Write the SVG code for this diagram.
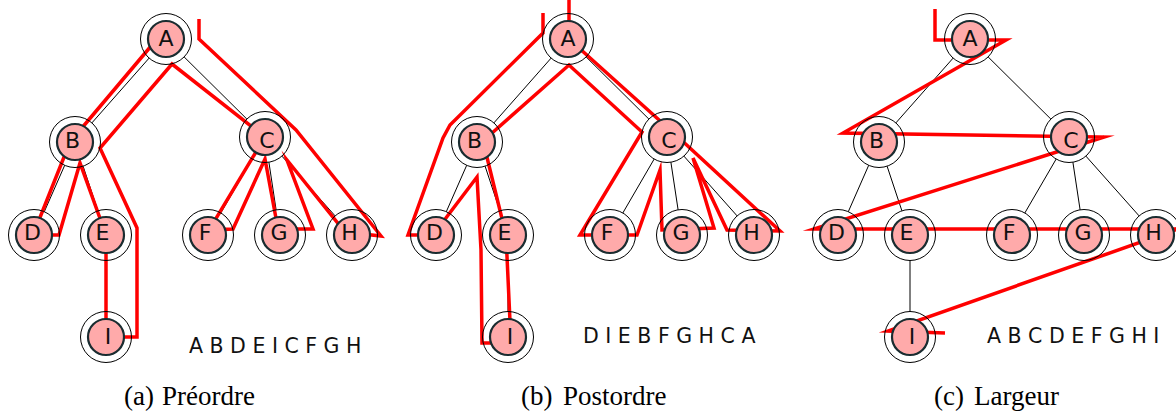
<svg xmlns="http://www.w3.org/2000/svg" width="1176" height="413" viewBox="0 0 1176 413">
<style>
.edge{stroke:#000;stroke-width:1;fill:none}
.walk{stroke:#ff0000;stroke-width:3.5;fill:none;stroke-linejoin:miter;stroke-miterlimit:10;stroke-linecap:butt}
.ring{fill:none;stroke:#000;stroke-width:1}
.core{fill:#ffaaaa;stroke:#1a2c30;stroke-width:2.2}
.lbl{font-family:"DejaVu Sans",sans-serif;font-size:22px;text-anchor:middle;fill:#111}
.seq{font-family:"DejaVu Sans",sans-serif;font-size:20.5px;fill:#111}
.cap{font-family:"Liberation Serif",serif;font-size:27px;fill:#000}
</style>
<rect width="1176" height="413" fill="#fff"/>
<g id="connectors">
  <g id="edges-a" class="edge">
    <line x1="149.1" y1="58.1" x2="91.9" y2="122.9"/>
    <line x1="184.1" y1="56.9" x2="246.9" y2="119.1"/>
    <line x1="64.7" y1="165.3" x2="44.3" y2="211.7"/>
    <line x1="83.1" y1="166.2" x2="97.9" y2="210.8"/>
    <line x1="252.2" y1="159" x2="220.8" y2="213"/>
    <line x1="268.9" y1="162.2" x2="276.1" y2="209.8"/>
    <line x1="281.9" y1="156.1" x2="335.1" y2="215.9"/>
    <line x1="106" y1="260.5" x2="106" y2="311.5"/>
  </g>
  <g id="edges-b" class="edge" transform="translate(402 0)">
    <line x1="149.1" y1="58.1" x2="91.9" y2="122.9"/>
    <line x1="184.1" y1="56.9" x2="246.9" y2="119.1"/>
    <line x1="64.7" y1="165.3" x2="44.3" y2="211.7"/>
    <line x1="83.1" y1="166.2" x2="97.9" y2="210.8"/>
    <line x1="252.2" y1="159" x2="220.8" y2="213"/>
    <line x1="268.9" y1="162.2" x2="276.1" y2="209.8"/>
    <line x1="281.9" y1="156.1" x2="335.1" y2="215.9"/>
    <line x1="106" y1="260.5" x2="106" y2="311.5"/>
  </g>
  <g id="edges-c" class="edge" transform="translate(804 0)">
    <line x1="149.1" y1="58.1" x2="91.9" y2="122.9"/>
    <line x1="184.1" y1="56.9" x2="246.9" y2="119.1"/>
    <line x1="64.7" y1="165.3" x2="44.3" y2="211.7"/>
    <line x1="83.1" y1="166.2" x2="97.9" y2="210.8"/>
    <line x1="252.2" y1="159" x2="220.8" y2="213"/>
    <line x1="268.9" y1="162.2" x2="276.1" y2="209.8"/>
    <line x1="281.9" y1="156.1" x2="335.1" y2="215.9"/>
    <line x1="106" y1="260.5" x2="106" y2="311.5"/>
  </g>
  <path id="walk-a" class="walk" d="M157,39 L70,142 L33,235 L59,235 L80,163 L106,235 L106,337 L137,337 L137,228 L100,148 L172,64 L265,137 L209,230 L233,229 L265,159 L278,229 L313,229 L287,160 L345,232 L381,236 L296,130 L199,39 L199,19"/>
  <path id="walk-b" class="walk" d="M543,13 L543,33 L450,125 L443,138 L408,235 L433,235 L477,177 L481,250 L482,343 L511,343 L506,235 L483,141 L569,65 L642,132 L580,235 L637,235 L660,170 L662,230 L714,228 L693,158 L727,230 L780,231 L678,137 L569,39 L569,0"/>
  <path id="walk-c" class="walk" d="M935,9 L935,40 L1006,40 L843,133 L1104,137 L814,229 L1178,229 L888,331 L945,333"/>
</g>
<g id="a-A"><circle class="ring" cx="166" cy="39" r="25.5"/><circle class="core" cx="166" cy="39" r="18"/><text class="lbl" x="166" y="45.5">A</text></g>
<g id="a-B"><circle class="ring" cx="75" cy="142" r="25.5"/><circle class="core" cx="75" cy="142" r="18"/><text class="lbl" x="72.5" y="147.5">B</text></g>
<g id="a-C"><circle class="ring" cx="265" cy="137" r="25.5"/><circle class="core" cx="265" cy="137" r="18"/><text class="lbl" x="267" y="147.5">C</text></g>
<g id="a-D"><circle class="ring" cx="34" cy="235" r="25.5"/><circle class="core" cx="34" cy="235" r="18"/><text class="lbl" x="32.5" y="240">D</text></g>
<g id="a-E"><circle class="ring" cx="106" cy="235" r="25.5"/><circle class="core" cx="106" cy="235" r="18"/><text class="lbl" x="102.5" y="240">E</text></g>
<g id="a-F"><circle class="ring" cx="208" cy="235" r="25.5"/><circle class="core" cx="208" cy="235" r="18"/><text class="lbl" x="205" y="240">F</text></g>
<g id="a-G"><circle class="ring" cx="280" cy="235" r="25.5"/><circle class="core" cx="280" cy="235" r="18"/><text class="lbl" x="279" y="240">G</text></g>
<g id="a-H"><circle class="ring" cx="352" cy="235" r="25.5"/><circle class="core" cx="352" cy="235" r="18"/><text class="lbl" x="349.5" y="240">H</text></g>
<g id="a-I"><circle class="ring" cx="106" cy="337" r="25.5"/><circle class="core" cx="106" cy="337" r="18"/><text class="lbl" x="108" y="343.5">I</text></g>

<g id="b-A"><circle class="ring" cx="568" cy="39" r="25.5"/><circle class="core" cx="568" cy="39" r="18"/><text class="lbl" x="568" y="45.5">A</text></g>
<g id="b-B"><circle class="ring" cx="477" cy="142" r="25.5"/><circle class="core" cx="477" cy="142" r="18"/><text class="lbl" x="474.5" y="147.5">B</text></g>
<g id="b-C"><circle class="ring" cx="667" cy="137" r="25.5"/><circle class="core" cx="667" cy="137" r="18"/><text class="lbl" x="669" y="147.5">C</text></g>
<g id="b-D"><circle class="ring" cx="436" cy="235" r="25.5"/><circle class="core" cx="436" cy="235" r="18"/><text class="lbl" x="434.5" y="240">D</text></g>
<g id="b-E"><circle class="ring" cx="508" cy="235" r="25.5"/><circle class="core" cx="508" cy="235" r="18"/><text class="lbl" x="504.5" y="240">E</text></g>
<g id="b-F"><circle class="ring" cx="610" cy="235" r="25.5"/><circle class="core" cx="610" cy="235" r="18"/><text class="lbl" x="607" y="240">F</text></g>
<g id="b-G"><circle class="ring" cx="682" cy="235" r="25.5"/><circle class="core" cx="682" cy="235" r="18"/><text class="lbl" x="681" y="240">G</text></g>
<g id="b-H"><circle class="ring" cx="754" cy="235" r="25.5"/><circle class="core" cx="754" cy="235" r="18"/><text class="lbl" x="751.5" y="240">H</text></g>
<g id="b-I"><circle class="ring" cx="508" cy="337" r="25.5"/><circle class="core" cx="508" cy="337" r="18"/><text class="lbl" x="510" y="343.5">I</text></g>

<g id="c-A"><circle class="ring" cx="970" cy="39" r="25.5"/><circle class="core" cx="970" cy="39" r="18"/><text class="lbl" x="970" y="45.5">A</text></g>
<g id="c-B"><circle class="ring" cx="879" cy="142" r="25.5"/><circle class="core" cx="879" cy="142" r="18"/><text class="lbl" x="876.5" y="147.5">B</text></g>
<g id="c-C"><circle class="ring" cx="1069" cy="137" r="25.5"/><circle class="core" cx="1069" cy="137" r="18"/><text class="lbl" x="1071" y="147.5">C</text></g>
<g id="c-D"><circle class="ring" cx="838" cy="235" r="25.5"/><circle class="core" cx="838" cy="235" r="18"/><text class="lbl" x="836.5" y="240">D</text></g>
<g id="c-E"><circle class="ring" cx="910" cy="235" r="25.5"/><circle class="core" cx="910" cy="235" r="18"/><text class="lbl" x="906.5" y="240">E</text></g>
<g id="c-F"><circle class="ring" cx="1012" cy="235" r="25.5"/><circle class="core" cx="1012" cy="235" r="18"/><text class="lbl" x="1009" y="240">F</text></g>
<g id="c-G"><circle class="ring" cx="1084" cy="235" r="25.5"/><circle class="core" cx="1084" cy="235" r="18"/><text class="lbl" x="1083" y="240">G</text></g>
<g id="c-H"><circle class="ring" cx="1156" cy="235" r="25.5"/><circle class="core" cx="1156" cy="235" r="18"/><text class="lbl" x="1153.5" y="240">H</text></g>
<g id="c-I"><circle class="ring" cx="910" cy="337" r="25.5"/><circle class="core" cx="910" cy="337" r="18"/><text class="lbl" x="912" y="343.5">I</text></g>

<text class="seq" x="189" y="353">A B D E I C F G H</text>
<text class="seq" x="583" y="343">D I E B F G H C A</text>
<text class="seq" x="987" y="343">A B C D E F G H I</text>

<text class="cap" x="124" y="405">(a)<tspan x="162">Préordre</tspan></text>
<text class="cap" x="521" y="405">(b)<tspan x="563">Postordre</tspan></text>
<text class="cap" x="934" y="405">(c)<tspan x="974">Largeur</tspan></text>
</svg>
